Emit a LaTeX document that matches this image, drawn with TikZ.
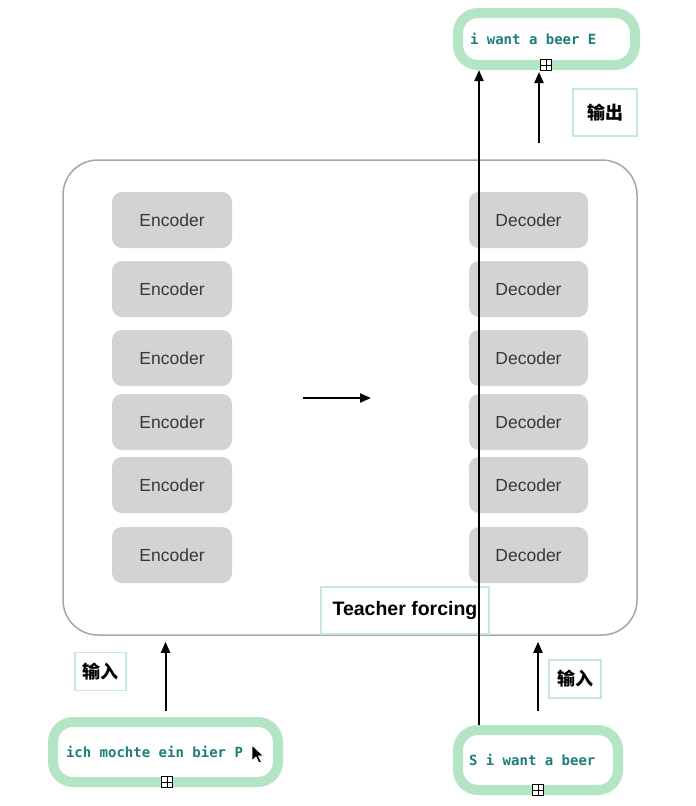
\documentclass[tikz,border=0pt]{standalone}
\usepackage{fontspec}
\setmainfont{Liberation Sans}
\newfontfamily\monofnt{DejaVu Sans Mono}
\newfontfamily\cjkfnt{Noto Sans CJK SC}
\usetikzlibrary{arrows.meta}
\definecolor{boxgreen}{HTML}{B4E5C4}
\definecolor{lblgreen}{HTML}{C4EBD1}
\definecolor{tealtxt}{HTML}{1E7E79}
\definecolor{blockgray}{HTML}{D3D3D3}
\definecolor{framegray}{HTML}{A6A6A6}
\definecolor{txtgray}{HTML}{383838}
\begin{document}
\begin{tikzpicture}[x=1pt,y=-1pt,
  frame/.style={draw=framegray, line width=1.5pt, rounded corners=35pt, minimum width=574pt, minimum height=475pt, inner sep=0pt},
  block/.style={fill=blockgray, rounded corners=10pt, minimum width=120pt, minimum height=56pt, inner sep=0pt, text=txtgray, font=\fontsize{17.5}{20}\selectfont},
  seqbox/.style={draw=boxgreen, line width=10pt, rounded corners=20pt, fill=white, align=left, font=\monofnt\bfseries\fontsize{14}{16}\selectfont, text=tealtxt, inner ysep=0pt, execute at begin node={\spaceskip=8.43pt\relax}},
  lbl/.style={draw=lblgreen, line width=1.8pt, fill=white, inner sep=0pt, font=\cjkfnt\bfseries\fontsize{18}{20}\selectfont},
  arr/.style={line width=2pt, -{Triangle[length=11pt,width=9pt]}},
  sq/.style={draw=black, fill=white, line width=0.8pt, minimum size=11pt, inner sep=0pt,
    path picture={\draw[line width=0.8pt] (path picture bounding box.north) -- (path picture bounding box.south) (path picture bounding box.west) -- (path picture bounding box.east);}}
]
\useasboundingbox (0,0) rectangle (696,806);
\fill[white] (0,0) rectangle (696,806);

% main frame
\node[frame] (main) at (350,397.5) {};

% encoder / decoder stacks
\foreach \i/\yy in {1/220,2/289,3/358,4/422,5/485,6/555}{
  \node[block] (enc\i) at (172,\yy) {Encoder};
  \node[block, minimum width=119pt] (dec\i) at (528.5,\yy) {Decoder};
}

% middle arrow
\coordinate (ma) at (303,398);
\coordinate (mb) at (371,398);
\draw[arr] (ma) -- (mb);

% teacher forcing
\node[draw=lblgreen, line width=1.5pt, fill=white, minimum width=168pt, minimum height=47pt, inner sep=0pt, font=\bfseries\fontsize{19.5}{22}\selectfont] (tf) at (405,610.5) {Teacher forcing};

% sequence boxes
\node[seqbox, minimum height=52pt, text width=153pt, inner xsep=12pt] (outseq) at (546.5,39) {i want a beer E};
\node[seqbox, minimum height=60pt, text width=199pt, inner xsep=13pt] (inseq) at (165.5,752) {ich mochte ein bier P};
\node[seqbox, minimum height=60pt, text width=138pt, inner xsep=11pt] (decseq) at (538,760) {S i want a beer};

% plus boxes
\node[sq] (p1) at (546,65) {};
\node[sq] (p2) at (167,782) {};
\node[sq] (p3) at (538,790) {};

% labels
\node[lbl, minimum width=64pt, minimum height=47pt] (lout) at (605,112.5) {输出};
\node[lbl, minimum width=51pt, minimum height=38pt] (lin1) at (100.5,671.5) {输入};
\node[lbl, minimum width=52pt, minimum height=38pt] (lin2) at (575,679) {输入};

% connectors
\draw[arr, shorten <=6pt, shorten >=6pt] (inseq.north) -- (inseq.north |- main.south);
\draw[arr, shorten <=14pt, shorten >=6pt] (decseq.north) -- (decseq.north |- main.south);
\coordinate (tfx) at (479,0);
\draw[arr] (decseq.north -| tfx) -- (tfx |- outseq.south);
\coordinate (ob) at (539,143);
\draw[arr, shorten >=2pt] (ob) -- (ob |- outseq.south);

% mouse cursor
\draw[fill=black, draw=white, line width=0.8pt, line join=round] (252,745) -- ++(0,16) -- ++(4,-4) -- ++(3,6) -- ++(2.5,-1) -- ++(-3,-6) -- ++(5,0) -- cycle;
\end{tikzpicture}
\end{document}
